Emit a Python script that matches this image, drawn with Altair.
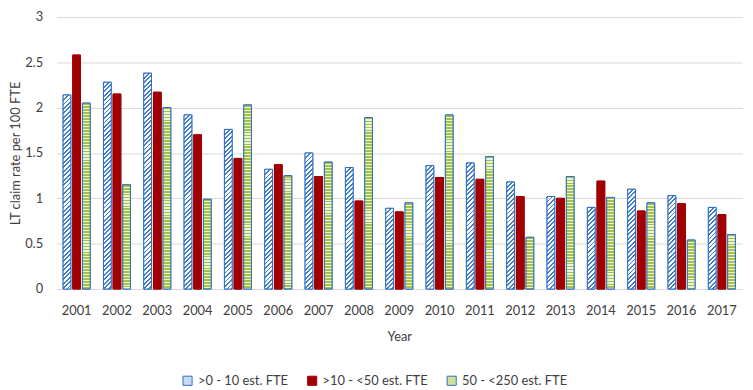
import math
import altair as alt

# ---- data ----
years = [str(y) for y in range(2001, 2018)]
series = [">0 - 10 est. FTE", ">10 - <50 est. FTE", "50 - <250 est. FTE"]
small = [2.14, 2.28, 2.38, 1.92, 1.76, 1.32, 1.50, 1.34, 0.89, 1.36, 1.39, 1.18, 1.02, 0.90, 1.10, 1.03, 0.90]
medium = [2.58, 2.15, 2.17, 1.70, 1.44, 1.37, 1.24, 0.97, 0.85, 1.23, 1.21, 1.02, 1.00, 1.19, 0.86, 0.94, 0.82]
large = [2.05, 1.15, 2.00, 0.99, 2.03, 1.25, 1.40, 1.89, 0.95, 1.92, 1.46, 0.57, 1.24, 1.01, 0.95, 0.54, 0.60]

# ---- layout / style constants ----
W, H = 693, 275
YMAX = 3.0
PX_PER_UNIT = H / YMAX
X_PAD_INNER = 0.33
OFF_PAD = 0.2
BAND = (W / len(years)) * (1 - X_PAD_INNER)
BAR_W = BAND / (3 - OFF_PAD) * (1 - OFF_PAD)

BLUE = "#2e6fc4"
RED = "#a00000"
GREEN = "#a4c24a"
FONT = "Lato"
TEXT = "#404040"


def stripes(n, c_line, c_bg, frac):
    stops = []
    step = 1.0 / n
    k = 0
    while k * step < 1:
        t0 = k * step
        t1 = min(t0 + step * frac, 1.0)
        t2 = min(t0 + step, 1.0)
        stops += [
            {"offset": round(t0, 4), "color": c_line},
            {"offset": round(t1, 4), "color": c_line},
            {"offset": round(t1, 4), "color": c_bg},
            {"offset": round(t2, 4), "color": c_bg},
        ]
        k += 1
    return stops


def diag_fill(v):
    h = max(v * PX_PER_UNIT, 1.0)
    a = BAR_W / h
    s = (a + 1) / (a * a + 1)
    d = h * (a + 1) / math.sqrt(2)
    n = max(d / 3.2, 1)
    return {"gradient": "linear", "x1": 0, "y1": 0, "x2": a * s, "y2": s,
            "stops": stripes(n, "#3f7dcc", "#ffffff", 0.42)}


def horiz_fill(v):
    h = max(v * PX_PER_UNIT, 1.0)
    n = max(h / 3.0, 1)
    return {"gradient": "linear", "x1": 0, "y1": 0, "x2": 0, "y2": 1,
            "stops": stripes(n, GREEN, "#eef3d6", 0.62)}


rows = []
for i, yr in enumerate(years):
    rows.append({"year": yr, "series": series[0], "value": small[i],
                 "g": diag_fill(small[i]), "sc": BLUE})
    rows.append({"year": yr, "series": series[1], "value": medium[i],
                 "g": RED, "sc": RED})
    rows.append({"year": yr, "series": series[2], "value": large[i],
                 "g": horiz_fill(large[i]), "sc": BLUE})

data = alt.Data(values=rows)

x_enc = alt.X("year:N", sort=years,
              scale=alt.Scale(paddingInner=X_PAD_INNER, paddingOuter=X_PAD_INNER / 2),
              axis=alt.Axis(title="Year", labelAngle=0, ticks=False, tickSize=0,
                            domain=False, labelPadding=16, titlePadding=13))
xo_enc = alt.XOffset("series:N", sort=series,
                     scale=alt.Scale(paddingInner=OFF_PAD, paddingOuter=0))
y_enc = alt.Y("value:Q",
              scale=alt.Scale(domain=[0, YMAX], nice=False, zero=True),
              axis=alt.Axis(title="LT claim rate per 100 FTE", values=[0, 0.5, 1, 1.5, 2, 2.5, 3],
                            format="~g", ticks=False, tickSize=0, domain=False,
                            labelPadding=14, titlePadding=2, grid=True))

legend_props = dict(title=None, orient="none", direction="horizontal",
                    legendX=126, legendY=361, symbolType="square",
                    symbolSize=85, columnPadding=16, labelFontSize=13,
                    symbolStrokeWidth=1)

legend_layer = alt.Chart(data).mark_bar(strokeWidth=1).encode(
    x=x_enc, xOffset=xo_enc, y=y_enc,
    color=alt.Color("series:N", sort=series,
                    scale=alt.Scale(domain=series, range=["#c9dbf2", RED, "#d2e29a"]),
                    legend=alt.Legend(**legend_props)),
    stroke=alt.Stroke("series:N", sort=series,
                      scale=alt.Scale(domain=series, range=[BLUE, RED, BLUE]),
                      legend=alt.Legend(**legend_props)),
)

pattern_layer = alt.Chart(data).mark_bar(strokeWidth=1).encode(
    x=x_enc, xOffset=xo_enc, y=y_enc,
    fill=alt.Fill("g:N", scale=None, legend=None),
    stroke=alt.Stroke("sc:N", scale=None, legend=None),
)

chart = alt.layer(legend_layer, pattern_layer).properties(
    width=W, height=H,
    autosize=alt.AutoSizeParams(type="none"),
    padding={"left": 49, "top": 7, "right": 3, "bottom": 100},
).configure_view(stroke=None).configure_axis(
    labelFont=FONT, titleFont=FONT, labelFontSize=13, titleFontSize=13,
    titleFontWeight="normal", labelColor=TEXT, titleColor=TEXT,
    gridColor="#d9d9d9", gridWidth=1,
).configure_legend(
    labelFont=FONT, labelColor=TEXT,
)

chart.save("out.html", embed_options={"renderer": "svg", "actions": False})
